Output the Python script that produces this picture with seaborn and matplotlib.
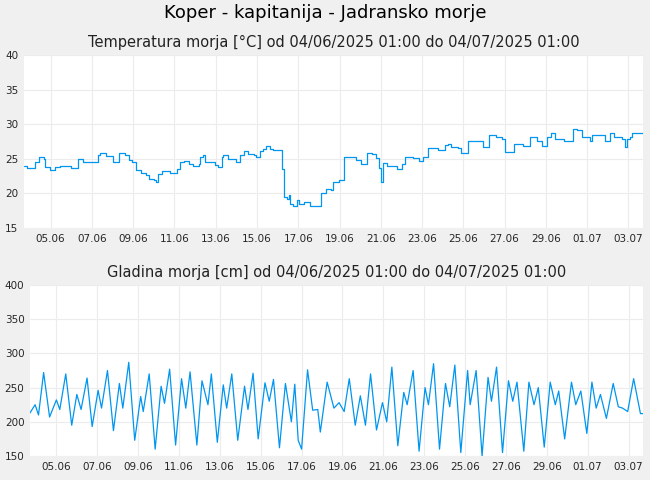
import numpy as np
import pandas as pd
import matplotlib
matplotlib.use('Agg')
import matplotlib.pyplot as plt
import seaborn as sns

# hours after 04/06/2025 01:00
temp_hours = [0, 4, 10, 13, 18, 23, 25, 30, 36, 42, 51, 55, 58, 63, 67, 69, 82, 86, 88, 92, 95, 101, 104, 110, 117, 122,
              126, 130, 136, 142, 145, 151, 153, 156, 160, 165, 170, 174, 178, 182, 186, 192, 197, 203, 205, 208, 211,
              217, 222, 226, 230, 232, 237, 242, 247, 251, 256, 261, 267, 270, 274, 278, 281, 286, 290, 298, 300, 302,
              303, 306, 308, 309, 313, 315, 317, 320, 324, 326, 330, 333, 338, 342, 346, 351, 357, 359, 366, 372, 380,
              386, 392, 399, 405, 410, 413, 415, 418, 422, 434, 440, 443, 453, 459, 464, 470, 482, 490, 493, 497, 505,
              508, 516, 526, 534, 541, 549, 556, 560, 564, 570, 580, 588, 597, 603, 608, 613, 618, 628, 638, 643, 649,
              658, 661, 667, 676, 682, 686, 695, 699, 701, 705, 707, 714, 720]
temp_vals = [24.0, 23.7, 23.7, 24.5, 25.2, 25.0, 23.8, 23.4, 23.8, 24.0, 24.0, 23.6, 23.6, 25.0, 25.0, 24.6, 24.6, 25.6,
             25.9, 25.9, 25.4, 25.4, 24.6, 25.9, 25.5, 24.8, 24.5, 23.4, 23.0, 22.6, 22.1, 21.9, 21.6, 22.8, 23.3, 23.3,
             23.0, 22.9, 23.5, 24.5, 24.7, 24.3, 23.9, 24.2, 25.2, 25.5, 24.6, 24.5, 24.1, 23.8, 25.3, 25.6, 25.0, 25.0,
             24.6, 25.6, 26.1, 25.7, 25.6, 25.3, 26.1, 26.4, 26.9, 26.4, 26.3, 26.3, 23.5, 21.0, 19.5, 19.2, 19.8, 18.5,
             18.2, 18.2, 19.1, 18.5, 18.5, 18.8, 18.7, 18.2, 18.2, 18.2, 20.0, 20.6, 20.5, 21.7, 22.0, 25.2, 25.2, 24.8,
             24.2, 25.8, 25.7, 25.1, 23.6, 21.7, 24.4, 24.0, 23.5, 24.3, 25.2, 25.1, 24.7, 25.3, 26.5, 26.2, 27.0, 27.2,
             26.7, 26.5, 25.8, 27.6, 27.5, 26.7, 28.4, 28.1, 27.9, 26.0, 26.0, 27.2, 26.8, 28.1, 27.5, 26.9, 28.2, 28.8,
             27.9, 27.6, 29.3, 29.1, 28.1, 27.5, 28.5, 28.4, 27.5, 28.7, 28.1, 27.9, 26.7, 27.9, 28.1, 28.8, 28.8, 28.8]

level_hours = [0, 6, 10, 16, 23, 31, 35, 42, 49, 55, 60, 67, 73, 80, 84, 91, 98, 105, 109, 116, 123, 130, 133, 140, 147,
               154, 158, 164, 171, 178, 183, 188, 196, 202, 209, 213, 220, 227, 231, 237, 244, 252, 256, 262, 268, 276,
               281, 286, 293, 300, 307, 311, 315, 319, 326, 332, 338, 341, 349, 357, 363, 369, 375, 382, 388, 394, 400,
               407, 414, 419, 425, 432, 439, 443, 450, 457, 464, 468, 474, 481, 488, 493, 499, 506, 514, 517, 524, 531,
               538, 542, 548, 555, 562, 567, 572, 580, 586, 592, 597, 604, 611, 617, 621, 628, 636, 641, 647, 654, 660,
               665, 670, 677, 685, 691, 696, 702, 709, 717, 720]
level_vals = [213, 225, 210, 272, 207, 232, 218, 270, 195, 240, 218, 264, 193, 246, 220, 275, 187, 256, 220, 287, 173,
              237, 215, 270, 160, 252, 227, 277, 166, 263, 220, 273, 166, 260, 225, 270, 170, 254, 220, 270, 173, 252,
              218, 271, 175, 257, 230, 262, 162, 256, 200, 255, 173, 160, 276, 217, 218, 185, 258, 220, 228, 215, 263,
              195, 238, 195, 270, 188, 228, 200, 280, 165, 243, 225, 275, 157, 250, 225, 285, 160, 256, 222, 283, 155,
              275, 225, 275, 150, 265, 230, 280, 155, 260, 230, 258, 157, 258, 225, 250, 163, 258, 225, 245, 175, 258,
              225, 245, 183, 258, 220, 240, 205, 256, 222, 220, 215, 263, 212, 212]

tick_labels = ['05.06', '07.06', '09.06', '11.06', '13.06', '15.06', '17.06', '19.06', '21.06', '23.06', '25.06',
               '27.06', '29.06', '01.07', '03.07']

start = pd.Timestamp('2025-06-04 01:00')
temp = pd.DataFrame({'t': start + pd.to_timedelta(temp_hours, unit='h'), 'v': temp_vals})
level = pd.DataFrame({'t': start + pd.to_timedelta(level_hours, unit='h'), 'v': level_vals})
ticks = [start + pd.Timedelta(hours=31 + 48 * i) for i in range(len(tick_labels))]

sns.set_style('white')
plt.rcParams['font.family'] = 'DejaVu Sans'
bg = '#f0f0f0'
col = '#0096f0'
fig = plt.figure(figsize=(6.5, 4.8), dpi=100, facecolor=bg)
fig.text(0.5, 0.972, 'Koper - kapitanija - Jadransko morje', ha='center', va='center', fontsize=13, color='black')

ax1 = fig.add_axes([24 / 650, 1 - 228 / 480, 619 / 650, 173 / 480])
ax2 = fig.add_axes([30 / 650, 1 - 456 / 480, 613 / 650, 171 / 480])

for ax, d, lim, step, title, ds in [
        (ax1, temp, (15, 40), 5, 'Temperatura morja [°C] od 04/06/2025 01:00 do 04/07/2025 01:00', 'steps-post'),
        (ax2, level, (150, 400), 50, 'Gladina morja [cm] od 04/06/2025 01:00 do 04/07/2025 01:00', 'default')]:
    sns.lineplot(data=d, x='t', y='v', ax=ax, color=col, lw=0.9, drawstyle=ds)
    ax.set_xlim(d['t'].iloc[0], d['t'].iloc[-1])
    ax.set_ylim(*lim)
    ax.set_yticks(np.arange(lim[0], lim[1] + 1, step))
    ax.set_xticks(ticks)
    ax.set_xticklabels(tick_labels)
    ax.tick_params(labelsize=7.5, length=0, pad=4)
    ax.grid(True, color='#ececec', lw=0.8)
    ax.set_xlabel('')
    ax.set_ylabel('')
    for s in ax.spines.values():
        s.set_visible(False)
    ax.set_title(title, fontsize=10.5, pad=6, color='#222222')

fig.savefig('out.png', dpi=100, facecolor=bg)
